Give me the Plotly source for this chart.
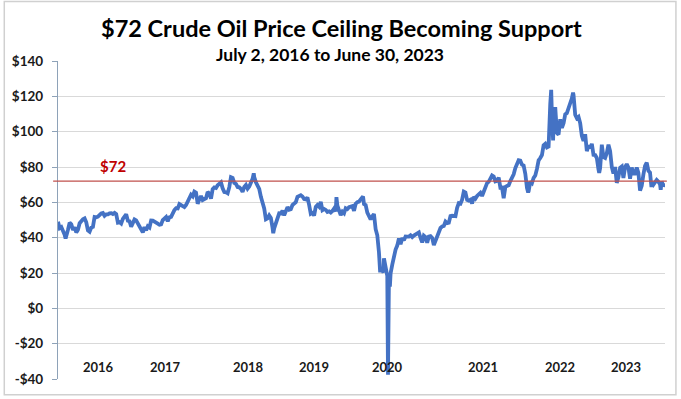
import pandas as pd
import plotly.graph_objects as go

# Weekly (Friday) WTI closes, USD/bbl
wti_2016 = [49.0, 45.4, 46.0, 44.2, 41.6, 41.8, 44.5, 48.5, 47.6, 44.4, 45.9, 43.0, 44.5, 48.2,
            49.8, 50.4, 50.9, 48.7, 44.1, 43.4, 45.7, 46.1, 51.7, 51.5, 51.9, 53.0, 53.7]
wti_2017 = [54.0, 52.4, 53.2, 53.2, 53.8, 53.9, 53.4, 54.0, 53.3, 48.5, 48.8, 48.0, 50.6,
            52.2, 53.2, 49.6, 49.3, 46.2, 47.8, 50.3, 49.8, 47.7, 45.8, 44.7, 43.0, 46.0,
            44.2, 46.5, 45.8, 49.7, 49.6, 48.8, 48.5, 47.9, 47.3, 47.5, 49.9, 50.7, 51.7,
            49.3, 51.5, 51.8, 53.9, 55.6, 56.7, 56.6, 59.0, 58.4, 57.4, 57.3, 58.5, 60.4]
wti_2018 = [61.4, 64.3, 63.4, 66.1, 65.5, 59.2, 61.7, 63.6, 61.3, 62.0, 62.3, 65.9, 64.9,
            62.1, 67.4, 68.4, 68.1, 69.7, 70.7, 71.3, 67.9, 65.8, 65.7, 65.1, 68.6, 74.2,
            73.8, 71.0, 70.5, 68.7, 68.5, 67.6, 65.9, 68.7, 69.8, 67.8, 69.0, 70.8, 73.3,
            74.3, 71.3, 69.1, 67.6, 63.1, 60.2, 56.5, 50.4, 50.9, 52.6, 51.2, 45.6, 45.3]
wti_2019 = [48.0, 51.6, 53.8, 53.7, 55.3, 52.7, 55.6, 57.3, 55.8, 56.1, 58.5, 59.0, 60.1,
            63.1, 63.9, 64.0, 63.3, 61.9, 61.7, 62.8, 58.6, 53.5, 54.0, 52.5, 57.4, 58.5,
            57.5, 60.2, 55.6, 56.2, 55.7, 54.5, 54.9, 54.2, 55.1, 56.5, 54.9, 58.1, 55.9,
            52.8, 54.7, 53.8, 56.7, 56.2, 57.2, 57.7, 57.8, 55.2, 59.2, 60.1, 60.4, 61.7]
wti_2020 = [63.1, 59.0, 58.5, 54.2, 51.6, 50.3, 52.1, 53.4, 44.8, 41.3, 31.7, 22.6, 21.5,
            28.3, 22.8, 18.3, 16.9, 19.8, 24.7, 29.4, 33.3, 35.5, 39.6, 36.3, 39.8, 38.5,
            40.7, 40.6, 40.6, 41.3, 40.3, 41.2, 42.0, 42.3, 43.0, 39.8, 37.3, 41.1, 40.3,
            37.1, 40.6, 40.9, 39.9, 35.8, 37.1, 40.1, 42.2, 45.5, 46.3, 46.6, 49.1, 48.2]
wti_2021 = [48.5, 52.2, 52.4, 52.3, 52.2, 56.9, 59.5, 59.2, 61.5, 66.1, 65.6, 61.4, 61.0,
            61.5, 59.3, 63.1, 62.1, 63.6, 64.9, 65.4, 63.6, 66.3, 69.6, 70.9, 71.6, 74.1,
            75.2, 74.6, 71.8, 72.1, 74.0, 68.3, 68.4, 62.3, 68.7, 69.3, 69.7, 72.0, 74.0,
            75.9, 79.4, 82.3, 83.8, 83.6, 81.3, 80.8, 76.1, 68.2, 66.3, 71.7, 70.9, 73.8, 75.2]
wti_2022 = [78.9, 83.8, 85.1, 86.8, 92.3, 93.1, 91.1, 91.6, 115.7, 109.3, 104.7, 113.9,
            99.3, 98.3, 107.0, 102.1, 104.7, 109.8, 110.5, 113.2, 115.1, 118.9, 120.7, 109.6,
            107.6, 108.4, 104.8, 97.6, 94.7, 98.6, 89.0, 92.1, 90.8, 93.1, 86.9, 86.8, 85.1,
            78.7, 79.5, 92.6, 85.6, 85.1, 87.9, 92.6, 89.0, 80.1, 76.3, 80.0, 71.0, 74.3, 79.6, 80.3]
wti_2023 = [73.8, 79.9, 81.6, 79.7, 73.4, 79.7, 76.3, 76.3, 79.7, 76.7, 66.7, 69.3, 75.7,
            80.7, 82.5, 77.9, 76.8, 71.3, 70.0, 71.7, 72.7, 71.7, 70.2, 71.8, 69.2, 70.6]

# Daily extremes
extra_dates = ["2016-08-02", "2018-10-03", "2018-12-24", "2019-09-16", "2020-01-06",
               "2020-03-18", "2020-04-01", "2020-04-20", "2020-04-21", "2020-04-28",
               "2020-11-02", "2021-12-01", "2022-03-08", "2022-03-16", "2022-06-08",
               "2022-09-26", "2023-05-04", "2023-06-12"]
extra_values = [39.5, 76.4, 42.5, 62.9, 63.3, 20.4, 20.3, -37.6, 10.0, 12.3,
                36.8, 65.6, 123.7, 95.0, 122.1, 76.7, 68.6, 67.1]

ceiling = 72
ceiling_label = "$72"
year_labels = ["2016", "2017", "2018", "2019", "2020", "2021", "2022", "2023"]
year_label_dates = ["2016-12-17", "2017-09-26", "2018-09-12", "2019-06-15",
                    "2020-04-19", "2021-05-23", "2022-04-12", "2023-01-15"]
y_tick_values = [-40, -20, 0, 20, 40, 60, 80, 100, 120, 140]
y_tick_text = ["-$40", "-$20", "$0", "$20", "$40", "$60", "$80", "$100", "$120", "$140"]

title_text = "$72 Crude Oil Price Ceiling Becoming Support"
subtitle_text = "July 2, 2016 to June 30, 2023"

weekly_values = wti_2016 + wti_2017 + wti_2018 + wti_2019 + wti_2020 + wti_2021 + wti_2022 + wti_2023
weekly_dates = pd.date_range("2016-07-01", "2023-06-30", freq="W-FRI")
n = min(len(weekly_dates), len(weekly_values))
df = pd.concat([
    pd.DataFrame({"date": weekly_dates[:n], "price": weekly_values[:n]}),
    pd.DataFrame({"date": pd.to_datetime(extra_dates), "price": extra_values}),
]).sort_values("date")

FONT = "Lato"
fig = go.Figure()
fig.add_trace(go.Scatter(x=df["date"], y=df["price"], mode="lines",
                         line=dict(color="#4472C4", width=3.8), hoverinfo="skip"))

fig.add_shape(type="line", xref="paper", yref="y", x0=-0.008, x1=1.003,
              y0=ceiling, y1=ceiling, line=dict(color="#C0504D", width=1.2))
fig.add_annotation(x="2017-02-16", y=80.4, xref="x", yref="y", text=ceiling_label,
                   showarrow=False, font=dict(family=FONT, size=15, color="#C00000", weight="bold"))

for lab, d in zip(year_labels, year_label_dates):
    fig.add_annotation(x=d, y=-33.2, xref="x", yref="y", text=lab, showarrow=False,
                       font=dict(family=FONT, size=13, color="#1a1a1a", weight="bold"))

fig.add_annotation(x=0.467, y=1.103, xref="paper", yref="paper", text=title_text,
                   showarrow=False, xanchor="center", yanchor="middle",
                   font=dict(family=FONT, size=23.5, color="#000000", weight="bold"))
fig.add_annotation(x=0.4475, y=1.022, xref="paper", yref="paper", text=subtitle_text,
                   showarrow=False, xanchor="center", yanchor="middle",
                   font=dict(family=FONT, size=17.5, color="#000000", weight="bold"))

fig.add_shape(type="rect", xref="paper", yref="paper", x0=-0.0885, x1=1.018,
              y0=-0.0498, y1=1.187, line=dict(color="#D0D0D0", width=1.5), layer="below")

fig.update_layout(
    width=681, height=399,
    margin=dict(l=55, r=16, t=61, b=17),
    paper_bgcolor="white", plot_bgcolor="white",
    showlegend=False,
    xaxis=dict(range=["2016-07-01", "2023-06-30"], showgrid=False, showticklabels=False,
               zeroline=False, showline=False, ticks=""),
    yaxis=dict(range=[-40, 140], tickvals=y_tick_values, ticktext=y_tick_text,
               showgrid=True, gridcolor="#D9D9D9", gridwidth=1, zeroline=False,
               showline=True, linecolor="#8EA2B8", linewidth=1.2,
               ticks="outside", ticklen=5, tickcolor="#8EA2B8", ticklabelstandoff=6,
               tickfont=dict(family=FONT, size=13.5, color="#1a1a1a", weight="bold")),
)

fig.write_html("out.html", config={"displayModeBar": False},
               post_script="document.body.style.margin='0px';document.body.style.padding='0px';")
